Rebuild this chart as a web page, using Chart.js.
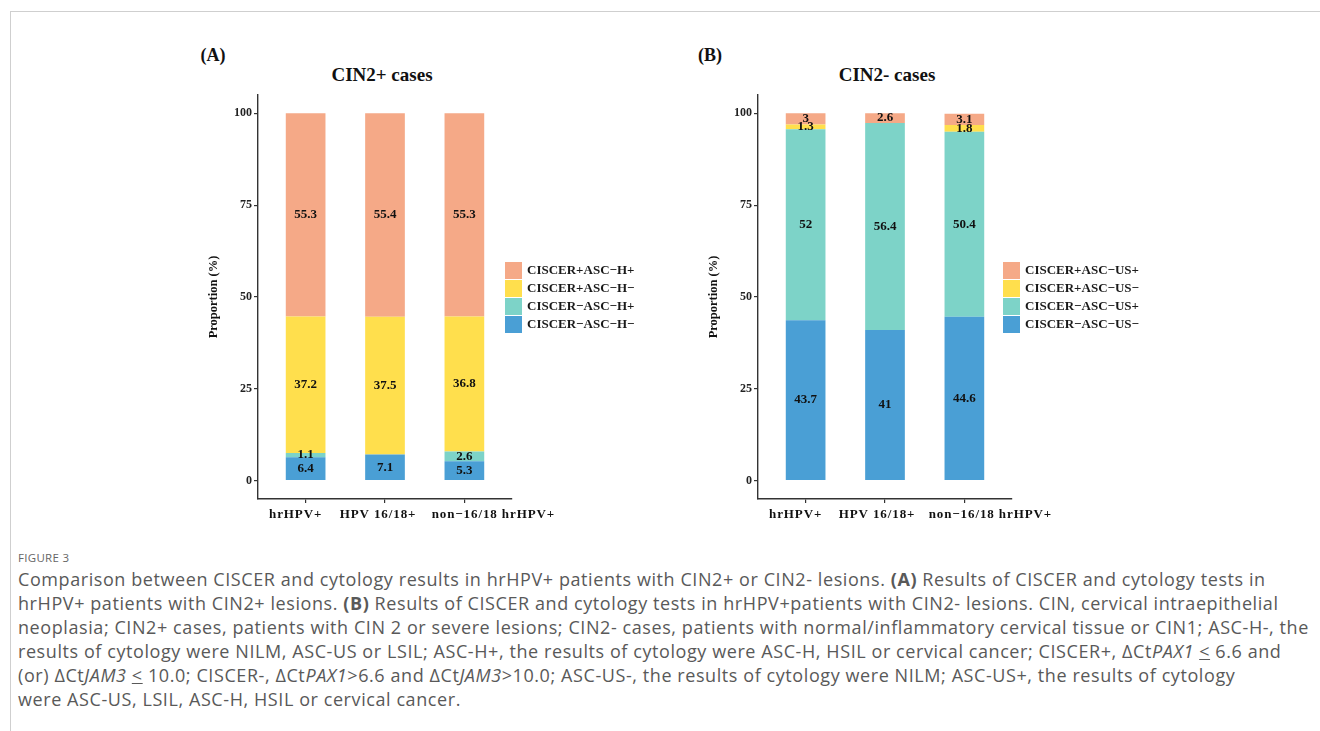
<!DOCTYPE html>
<html lang="en">
<head>
<meta charset="UTF-8">
<title>Figure 3</title>
<script src="https://cdn.jsdelivr.net/npm/chart.js"></script>
<style>
  html, body { margin: 0; padding: 0; background: #fff; }
  body { width: 1320px; height: 731px; position: relative; overflow: hidden; }
  .frame { position: absolute; left: 10px; top: 11px; right: 0; bottom: 0;
           border-top: 1px solid #cfcfcf; border-left: 1px solid #cfcfcf; }
  .serif { font-family: "Liberation Serif", "Times New Roman", serif; font-weight: bold; color: #111; }
  .abs { position: absolute; white-space: nowrap; }
  .panel-tag { font-size: 18px; transform: translate(-50%, -50%); }
  .panel-title { font-size: 19px; transform: translate(-50%, -50%); }
  canvas.plot { position: absolute; }
  .legend { position: absolute; }
  .legend .row { display: flex; align-items: center; height: 18px; }
  .legend .sw { width: 17px; height: 17px; margin-right: 5px; }
  .legend .lab { font-family: "Liberation Serif", serif; font-weight: bold; font-size: 13px; color: #1a1a1a; }
  .fig { left: 18px; top: 550px; font-family: "Open Sans", sans-serif; font-size: 11.5px; color: #666; letter-spacing: 0.3px; }
  .caption { position: absolute; left: 18px; top: 567px; font-family: "Open Sans", sans-serif;
             font-size: 18px; letter-spacing: 0.58px; color: #595959; line-height: 24px; }
  .caption div { white-space: nowrap; }
</style>
</head>
<body>
<div class="frame"></div>

<div class="abs serif panel-tag" style="left:213px; top:55px;">(A)</div>
<div class="abs serif panel-title" style="left:382px; top:75px;">CIN2+ cases</div>
<div class="abs serif panel-tag" style="left:710px; top:55px;">(B)</div>
<div class="abs serif panel-title" style="left:887px; top:75px;">CIN2- cases</div>

<canvas id="chartA" class="plot" width="380" height="450" style="left:190px; top:85px;"></canvas>
<canvas id="chartB" class="plot" width="380" height="450" style="left:690px; top:85px;"></canvas>

<div id="legendA" class="legend" style="left:505px; top:261px;"></div>
<div id="legendB" class="legend" style="left:1003px; top:261px;"></div>

<div class="abs fig">FIGURE 3</div>
<div class="caption">
  <div>Comparison between CISCER and cytology results in hrHPV+ patients with CIN2+ or CIN2- lesions. <b>(A)</b> Results of CISCER and cytology tests in</div>
  <div>hrHPV+ patients with CIN2+ lesions. <b>(B)</b> Results of CISCER and cytology tests in hrHPV+patients with CIN2- lesions. CIN, cervical intraepithelial</div>
  <div>neoplasia; CIN2+ cases, patients with CIN 2 or severe lesions; CIN2- cases, patients with normal/inflammatory cervical tissue or CIN1; ASC-H-, the</div>
  <div>results of cytology were NILM, ASC-US or LSIL; ASC-H+, the results of cytology were ASC-H, HSIL or cervical cancer; CISCER+, ΔCt<i>PAX1</i> <u>&lt;</u> 6.6 and</div>
  <div>(or) ΔCt<i>JAM3</i> <u>&lt;</u> 10.0; CISCER-, ΔCt<i>PAX1</i>&gt;6.6 and ΔCt<i>JAM3</i>&gt;10.0; ASC-US-, the results of cytology were NILM; ASC-US+, the results of cytology</div>
  <div>were ASC-US, LSIL, ASC-H, HSIL or cervical cancer.</div>
</div>

<script>
// categories on the x axis
const categories = ['hrHPV+', 'HPV 16/18+', 'non\u221216/18 hrHPV+'];
const yTicks = [0, 25, 50, 75, 100];

// panel A: CIN2+ cases (bottom to top of each stack)
const seriesA = ['CISCER\u2212ASC\u2212H\u2212', 'CISCER\u2212ASC\u2212H+', 'CISCER+ASC\u2212H\u2212', 'CISCER+ASC\u2212H+'];
const negNegA = [6.4, 7.1, 5.3];
const negPosA = [1.1, 0, 2.6];
const posNegA = [37.2, 37.5, 36.8];
const posPosA = [55.3, 55.4, 55.3];

// panel B: CIN2- cases
const seriesB = ['CISCER\u2212ASC\u2212US\u2212', 'CISCER\u2212ASC\u2212US+', 'CISCER+ASC\u2212US\u2212', 'CISCER+ASC\u2212US+'];
const negNegB = [43.7, 41, 44.6];
const negPosB = [52, 56.4, 50.4];
const posNegB = [1.3, 0, 1.8];
const posPosB = [3, 2.6, 3.1];

const colors = ['#4a9fd5', '#7dd3c8', '#ffdf4d', '#f5a987'];

const serifBold = (size) => ({ family: '"Liberation Serif", "Times New Roman", serif', weight: 'bold', size: size });

// value labels in the middle of each segment
const segmentLabels = {
    id: 'segmentLabels',
    afterDatasetsDraw(chart) {
        const ctx = chart.ctx;
        ctx.save();
        ctx.font = 'bold 13px "Liberation Serif", serif';
        ctx.fillStyle = '#111';
        ctx.textAlign = 'center';
        ctx.textBaseline = 'middle';
        chart.data.datasets.forEach((ds, i) => {
            chart.getDatasetMeta(i).data.forEach((bar, j) => {
                const v = ds.data[j].y;
                if (!v) return;
                ctx.fillText(String(v), bar.x, (bar.y + bar.base) / 2);
            });
        });
        ctx.restore();
    }
};

// category names under the x axis; the long third name sits right of its tick as in the figure
const catLabels = {
    id: 'catLabels',
    afterDraw(chart, args, opts) {
        const xs = chart.scales.x;
        const ctx = chart.ctx;
        ctx.save();
        ctx.font = 'bold 13px "Liberation Serif", serif';
        ctx.letterSpacing = '0.9px';
        ctx.fillStyle = '#111';
        ctx.textAlign = 'center';
        ctx.textBaseline = 'middle';
        categories.forEach((c, k) => {
            ctx.fillText(c, xs.getPixelForValue(k + 1) + opts.shift[k], xs.top + 16);
        });
        ctx.restore();
    }
};

function makeChart(id, names, values, shift) {
    const datasets = names.map((name, i) => ({
        label: name,
        data: values[i].map((v, j) => ({ x: j + 1, y: v })),
        backgroundColor: colors[i],
        borderWidth: 0,
        categoryPercentage: 1,
        barPercentage: 0.5
    }));
    return new Chart(document.getElementById(id), {
        type: 'bar',
        data: { datasets: datasets },
        plugins: [segmentLabels, catLabels],
        options: {
            responsive: false,
            animation: false,
            layout: { padding: { left: 0, right: 58, top: 10, bottom: 0 } },
            plugins: { legend: { display: false }, tooltip: { enabled: false }, catLabels: { shift: shift } },
            scales: {
                x: {
                    type: 'linear', stacked: true, min: 0.4, max: 3.6, offset: false,
                    afterBuildTicks: (s) => { s.ticks = categories.map((c, k) => ({ value: k + 1 })); },
                    afterFit: (s) => { s.height = 36; },
                    grid: { offset: false, drawOnChartArea: false, drawTicks: true, tickLength: 4, tickColor: '#333', lineWidth: 1.2 },
                    border: { display: true, color: '#333', width: 1.4 },
                    ticks: { display: true, padding: 0, callback: () => '' }
                },
                y: {
                    stacked: true, min: -5, max: 105,
                    afterBuildTicks: (s) => { s.ticks = yTicks.map(v => ({ value: v })); },
                    afterFit: (s) => { s.width = 68; },
                    grid: { drawOnChartArea: false, drawTicks: true, tickLength: 4, tickColor: '#333', lineWidth: 1.2 },
                    border: { display: true, color: '#333', width: 1.4 },
                    ticks: { padding: 2, color: '#222', font: serifBold(12) },
                    title: { display: true, text: 'Proportion (%)', color: '#111', font: serifBold(12.5), padding: { top: 16, bottom: 0 } }
                }
            }
        }
    });
}

function makeLegend(id, names) {
    const box = document.getElementById(id);
    for (let i = names.length - 1; i >= 0; i--) {
        const row = document.createElement('div');
        row.className = 'row';
        row.innerHTML = '<span class="sw" style="background:' + colors[i] + '"></span><span class="lab">' + names[i] + '</span>';
        box.appendChild(row);
    }
}

makeChart('chartA', seriesA, [negNegA, negPosA, posNegA, posPosA], [-10, -7, 29]);
makeChart('chartB', seriesB, [negNegB, negPosB, posNegB, posPosB], [-10, -8, 26]);
makeLegend('legendA', seriesA);
makeLegend('legendB', seriesB);
</script>
</body>
</html>
